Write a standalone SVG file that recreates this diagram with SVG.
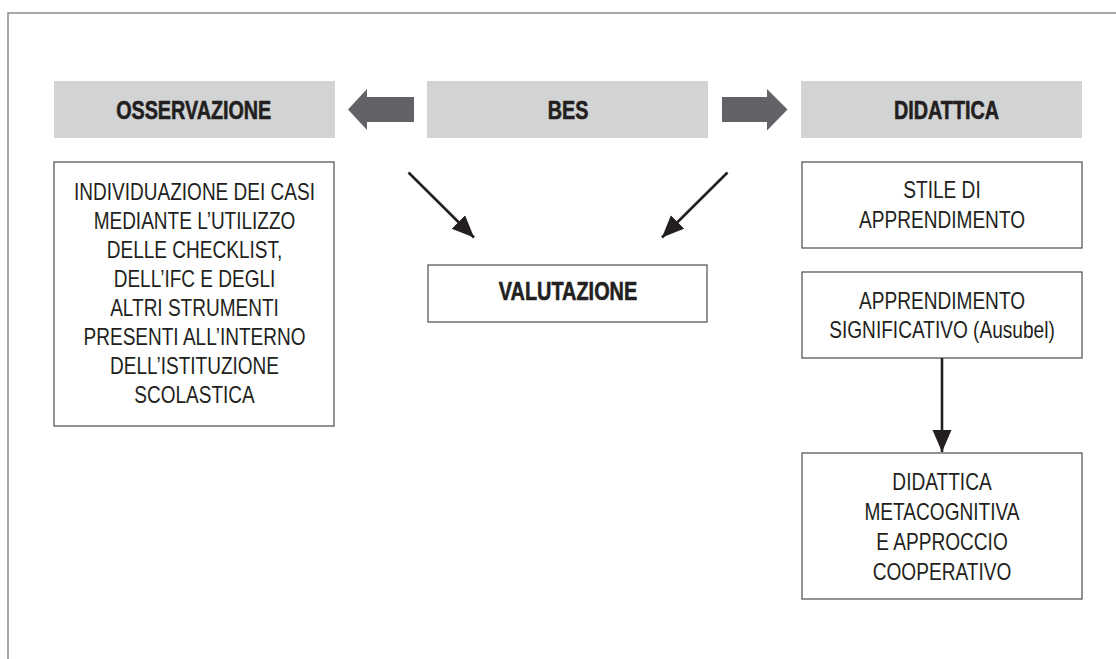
<svg xmlns="http://www.w3.org/2000/svg" width="1116" height="659" viewBox="0 0 1116 659">
<defs>
<style>
.frame{fill:none;stroke:#8a8a8c;stroke-width:1.5}
.hdr{fill:#d1d3d4}
.box{fill:#fff;stroke:#58595b;stroke-width:1.3}
.fat{fill:#626366}
.bt{font-family:"Liberation Sans",Arial,sans-serif;font-weight:bold;font-size:25.5px;fill:#231f20;stroke:#231f20;stroke-width:0.6;text-anchor:middle}
.rt{font-family:"Liberation Sans",Arial,sans-serif;font-size:23px;fill:#231f20;text-anchor:middle}
.con{stroke:#231f20;stroke-width:2.6;fill:none}
</style>
<marker id="ah" markerUnits="userSpaceOnUse" markerWidth="24" markerHeight="20" refX="22" refY="9.5" orient="auto">
<path d="M0,0 L22,9.5 L0,19 Z" fill="#231f20"/>
</marker>
</defs>
<rect width="1116" height="659" fill="#fff"/>
<path class="frame" d="M8,659 L8,13 L1116,13"/>

<g id="fat-arrows">
<path class="fat" d="M414,97 L367,97 L367,89 L348,109.5 L367,130 L367,122 L414,122 Z"/>
<path class="fat" d="M722,97 L767,97 L767,89 L787.5,109.5 L767,130.5 L767,122 L722,122 Z"/>
</g>

<g id="osservazione">
<rect class="hdr" x="54" y="81" width="281" height="57"/>
<g transform="translate(193.7,0) scale(0.775,1)"><text class="bt" x="0" y="119">OSSERVAZIONE</text></g>
</g>
<g id="bes">
<rect class="hdr" x="427" y="81" width="281" height="57"/>
<g transform="translate(568,0) scale(0.775,1)"><text class="bt" x="0" y="119">BES</text></g>
</g>
<g id="didattica">
<rect class="hdr" x="801" y="81" width="281" height="57"/>
<g transform="translate(946.5,0) scale(0.775,1)"><text class="bt" x="0" y="119">DIDATTICA</text></g>
</g>

<g id="individuazione">
<rect class="box" x="54" y="162" width="280" height="264"/>
<g transform="translate(194.5,0) scale(0.827,1)">
<text class="rt" x="0" y="200.3">INDIVIDUAZIONE DEI CASI</text>
<text class="rt" x="0" y="229.3">MEDIANTE L’UTILIZZO</text>
<text class="rt" x="0" y="258.3">DELLE CHECKLIST,</text>
<text class="rt" x="0" y="287.3">DELL’IFC E DEGLI</text>
<text class="rt" x="0" y="316.2">ALTRI STRUMENTI</text>
<text class="rt" x="0" y="345.1">PRESENTI ALL’INTERNO</text>
<text class="rt" x="0" y="374">DELL’ISTITUZIONE</text>
<text class="rt" x="0" y="402.9">SCOLASTICA</text>
</g>
</g>

<g id="valutazione">
<rect class="box" x="428" y="265" width="279" height="57"/>
<g transform="translate(568,0) scale(0.78,1)"><text class="bt" x="0" y="300">VALUTAZIONE</text></g>
</g>

<g id="stile">
<rect class="box" x="802" y="162" width="280" height="86"/>
<g transform="translate(942,0) scale(0.83,1)">
<text class="rt" x="0" y="198.5">STILE DI</text>
<text class="rt" x="0" y="228.5">APPRENDIMENTO</text>
</g>
</g>
<g id="apprendimento">
<rect class="box" x="802" y="272" width="280" height="86"/>
<g transform="translate(942,0) scale(0.83,1)">
<text class="rt" x="0" y="308.8">APPRENDIMENTO</text>
<text class="rt" x="0" y="338.3">SIGNIFICATIVO (Ausubel)</text>
</g>
</g>
<g id="metacognitiva">
<rect class="box" x="802" y="453" width="280" height="146"/>
<g transform="translate(942,0) scale(0.83,1)">
<text class="rt" x="0" y="490.5">DIDATTICA</text>
<text class="rt" x="0" y="520.5">METACOGNITIVA</text>
<text class="rt" x="0" y="550.5">E APPROCCIO</text>
<text class="rt" x="0" y="580">COOPERATIVO</text>
</g>
</g>

<g id="connectors">
<line class="con" x1="408.5" y1="172.5" x2="474" y2="237.5" marker-end="url(#ah)"/>
<line class="con" x1="727.5" y1="172.5" x2="662" y2="237.5" marker-end="url(#ah)"/>
<line class="con" x1="942" y1="358" x2="942" y2="452" stroke-width="3" marker-end="url(#ah)"/>
</g>
</svg>
